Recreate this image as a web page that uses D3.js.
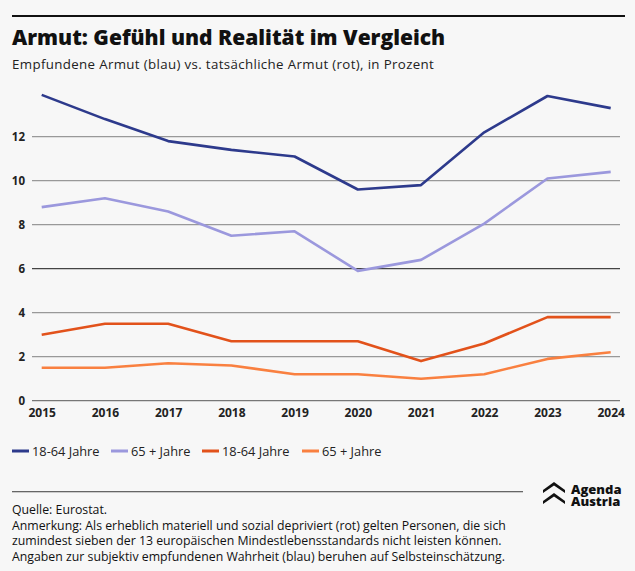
<!DOCTYPE html>
<html>
<head>
<meta charset="utf-8">
<script src="https://cdn.jsdelivr.net/npm/d3@7"></script>
<style>
  body { margin: 0; background: #f7f7f7; }
  svg { display: block; font-family: "Open Sans", Lato, sans-serif; }
</style>
</head>
<body>
<div id="chart-container"></div>
<script>
// Data
const years = [2015, 2016, 2017, 2018, 2019, 2020, 2021, 2022, 2023, 2024];
const felt1864 = [13.9, 12.8, 11.8, 11.4, 11.1, 9.6, 9.8, 12.2, 13.85, 13.3];
const felt65 = [8.8, 9.2, 8.6, 7.5, 7.7, 5.9, 6.4, 8.05, 10.1, 10.4];
const real1864 = [3.0, 3.5, 3.5, 2.7, 2.7, 2.7, 1.8, 2.6, 3.8, 3.8];
const real65 = [1.5, 1.5, 1.7, 1.6, 1.2, 1.2, 1.0, 1.2, 1.9, 2.2];
const yTicks = [0, 2, 4, 6, 8, 10, 12];
const legendLabels = ["18-64 Jahre", "65 + Jahre", "18-64 Jahre", "65 + Jahre"];

const series = [
  { values: felt1864, color: "#2d3a8c" },
  { values: felt65, color: "#9b98dd" },
  { values: real1864, color: "#e2521b" },
  { values: real65, color: "#f98040" }
];

const W = 635, H = 571;
const svg = d3.select("#chart-container")
  .append("svg")
  .attr("width", W)
  .attr("height", H);

svg.append("rect").attr("width", W).attr("height", H).attr("fill", "#f7f7f7");

// Top rule
svg.append("rect").attr("x", 12).attr("y", 15).attr("width", 613).attr("height", 2).attr("fill", "#111");

// Title + subtitle
svg.append("text")
  .attr("x", 12).attr("y", 45)
  .attr("font-size", 21).attr("font-weight", 800).attr("fill", "#111")
  .text("Armut: Gefühl und Realität im Vergleich");
svg.append("text")
  .attr("x", 12).attr("y", 69)
  .attr("font-size", 13.3).attr("letter-spacing", 0.35).attr("fill", "#222")
  .text("Empfundene Armut (blau) vs. tatsächliche Armut (rot), in Prozent");

// Scales
const x = d3.scalePoint().domain(years).range([41.7, 610.7]);
const y = d3.scaleLinear().domain([0, 12]).range([400.7, 136.7]);

// Grid lines
svg.append("g")
  .selectAll("line")
  .data(yTicks)
  .enter().append("line")
  .attr("x1", 32).attr("x2", 620)
  .attr("y1", d => y(d)).attr("y2", d => y(d))
  .attr("stroke", d => d === 6 ? "#444" : (d === 0 ? "#777" : "#999"))
  .attr("stroke-width", 1.3);

// Y axis labels
svg.append("g")
  .selectAll("text")
  .data(yTicks)
  .enter().append("text")
  .attr("x", 25).attr("y", d => y(d) + 4)
  .attr("text-anchor", "end")
  .attr("font-size", 11.5).attr("font-weight", 700).attr("fill", "#222")
  .text(d => d);

// X axis labels
const xAxis = svg.append("g")
  .attr("transform", "translate(0,405)")
  .call(d3.axisBottom(x).tickSize(0).tickPadding(3));
xAxis.select(".domain").remove();
xAxis.selectAll("text")
  .attr("font-family", "'Open Sans', Lato, sans-serif")
  .attr("font-size", 12).attr("font-weight", 700).attr("fill", "#222");

// Lines
const line = d3.line()
  .x((d, i) => x(years[i]))
  .y(d => y(d));

series.forEach(s => {
  svg.append("path")
    .datum(s.values)
    .attr("fill", "none")
    .attr("stroke", s.color)
    .attr("stroke-width", 2.6)
    .attr("stroke-linejoin", "round")
    .attr("d", line);
});

// Legend
const legendX = [12, 111, 202, 302];
const legend = svg.append("g").attr("transform", "translate(0,451)");
series.forEach((s, i) => {
  legend.append("rect")
    .attr("x", legendX[i]).attr("y", -1.5)
    .attr("width", 17).attr("height", 3)
    .attr("fill", s.color);
  legend.append("text")
    .attr("x", legendX[i] + 20).attr("y", 4.5)
    .attr("font-size", 12.8).attr("fill", "#222")
    .text(legendLabels[i]);
});

// Footer rule
svg.append("rect").attr("x", 12).attr("y", 491).attr("width", 511).attr("height", 1.3).attr("fill", "#666");

// Notes
const notes = [
  "Quelle: Eurostat.",
  "Anmerkung: Als erheblich materiell und sozial depriviert (rot) gelten Personen, die sich",
  "zumindest sieben der 13 europäischen Mindestlebensstandards nicht leisten können.",
  "Angaben zur subjektiv empfundenen Wahrheit (blau) beruhen auf Selbsteinschätzung."
];
svg.append("g")
  .selectAll("text")
  .data(notes)
  .enter().append("text")
  .attr("x", 12).attr("y", (d, i) => 514 + i * 15.5)
  .attr("font-size", 12.3).attr("fill", "#111")
  .text(d => d);

// Logo (one text block, two stacked lines)
const logo = svg.append("g").attr("transform", "translate(543,482)");
const chevron = "M0,8 L11,0 L22,8 L22,11 L11,3.5 L0,11 Z";
logo.append("path").attr("d", chevron).attr("fill", "#111");
logo.append("path").attr("d", chevron).attr("transform", "translate(0,11)").attr("fill", "#111");
const logoText = logo.append("text")
  .attr("font-size", 13).attr("font-weight", 800).attr("fill", "#111");
logoText.append("tspan").attr("x", 28).attr("y", 11.5).text("Agenda");
logoText.append("tspan").attr("x", 28).attr("y", 24).text("Austria");
</script>
</body>
</html>
